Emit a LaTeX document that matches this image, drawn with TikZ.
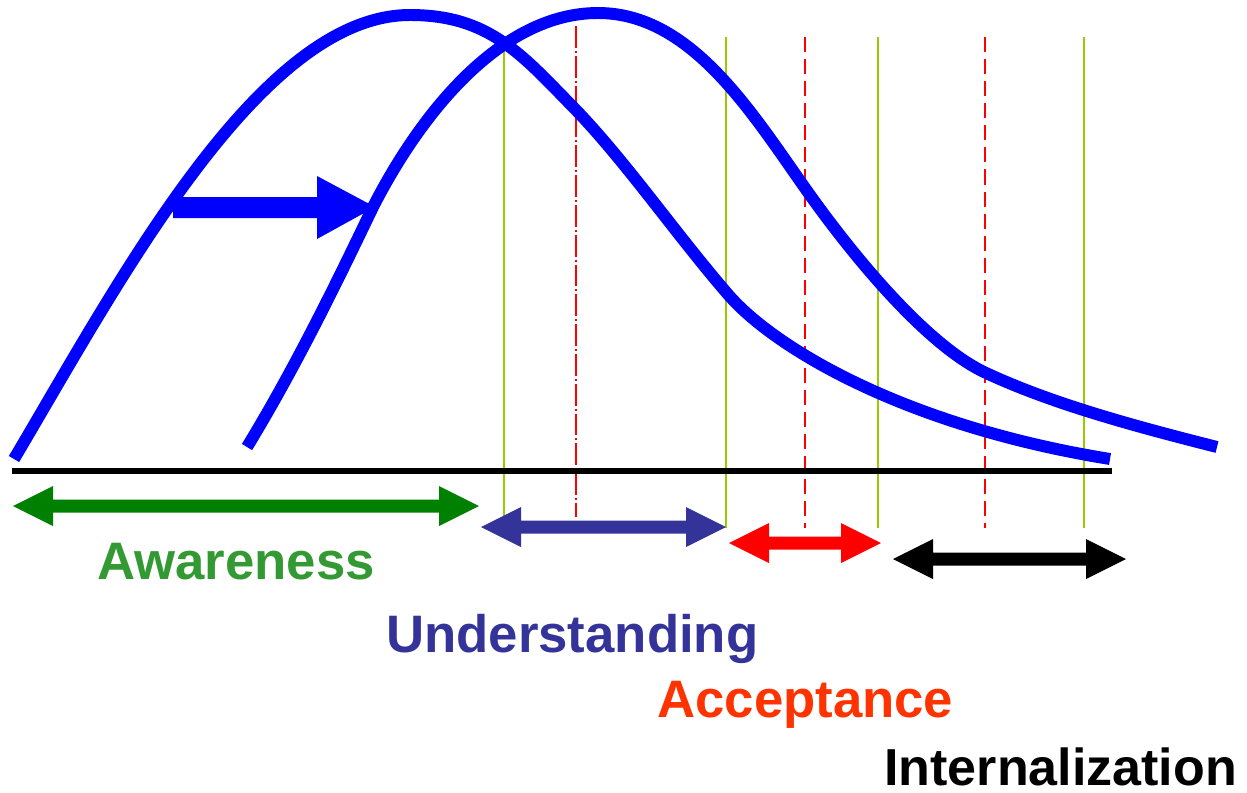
\documentclass[tikz,border=0pt]{standalone}
\usepackage{xcolor}
\usepackage{fontspec}
\setmainfont{Liberation Sans}
\usepackage{tikz}
\definecolor{curveblue}{HTML}{0000FF}
\definecolor{limeline}{HTML}{99CC00}
\definecolor{awaregreen}{HTML}{339933}
\definecolor{arrowgreen}{HTML}{008000}
\definecolor{understandblue}{HTML}{333399}
\definecolor{acceptred}{HTML}{FF3300}
\tikzstyle{curve} = [line width=8.5pt, color=curveblue]
\tikzstyle{axisline} = [line width=3.6pt, black]
\tikzstyle{bound} = [line width=1.7pt, color=limeline]
\tikzstyle{middash} = [line width=1.7pt, red, dash pattern=on 10.7pt off 5pt]
\tikzstyle{middashdot} = [line width=1.7pt, red, dash pattern=on 15.6pt off 2.1pt on 1.4pt off 2.1pt]
\tikzstyle{stage} = [anchor=base west, inner sep=0pt, font=\fontsize{37.5}{45}\selectfont\bfseries]
% double headed block arrow: colour, left tip, right tip, y
\newcommand{\fatarrow}[4]{
    \fill [#1] (#2,#4) -- ({#2+40},{#4-20}) -- ({#2+40},{#4-6.5}) -- ({#3-40},{#4-6.5})
        -- ({#3-40},{#4-20}) -- (#3,#4) -- ({#3-40},{#4+20}) -- ({#3-40},{#4+6.5})
        -- ({#2+40},{#4+6.5}) -- ({#2+40},{#4+20}) -- cycle;
}
\begin{document}
\begin{tikzpicture}[x=0.025cm, y=-0.025cm]

    \useasboundingbox (0,0) rectangle (1247,792);

    % Stage boundaries
    \foreach \xx in {504, 726, 878, 1084}
        \draw [bound] (\xx,37) -- (\xx,528);
    \foreach \xx in {805, 985}
        \draw [middash] (\xx,37) -- (\xx,528);
    \draw [middashdot] (576,26) -- (576,517);

    % Axis
    \coordinate (axisl) at (12,471);
    \coordinate (axisr) at (1112,471);
    \draw [axisline] (axisl) -- (axisr);

    % Curves
    \draw [curve] (14,459) .. controls (120,280) and (260,15) .. (410,15)
        .. controls (490,15) and (522,55) .. (576,110)
        .. controls (626,162) and (676,234) .. (726,292)
        .. controls (770,345) and (900,425) .. (1110,459);
    \draw [curve] (247,447) .. controls (300,360) and (345,265) .. (373,207)
        .. controls (420,115) and (500,13) .. (598,13)
        .. controls (690,13) and (750,110) .. (805,188)
        .. controls (850,252) and (924,343) .. (984,372)
        .. controls (1050,403) and (1130,425) .. (1217,447);

    % Shift arrow
    \fill [curveblue] (173,197) -- (317,197) -- (317,176) -- (375,207) -- (317,239)
        -- (317,218) -- (173,218) -- cycle;

    % Stage arrows
    \fatarrow{arrowgreen}{13}{479}{506}
    \fatarrow{understandblue}{481}{726}{527}
    \fatarrow{red}{729}{881}{543}
    \fatarrow{black}{893}{1126}{559}

    % Labels
    \node (aware) [stage, text=awaregreen] at (97,579) {Awareness};
    \node (under) [stage, text=understandblue] at (386,652) {Understanding};
    \node (accept) [stage, text=acceptred] at (657,717) {Acceptance};
    \node (intern) [stage, text=black, font=\fontsize{37}{44}\selectfont\bfseries] at (884,785) {Internalization};

\end{tikzpicture}
\end{document}
